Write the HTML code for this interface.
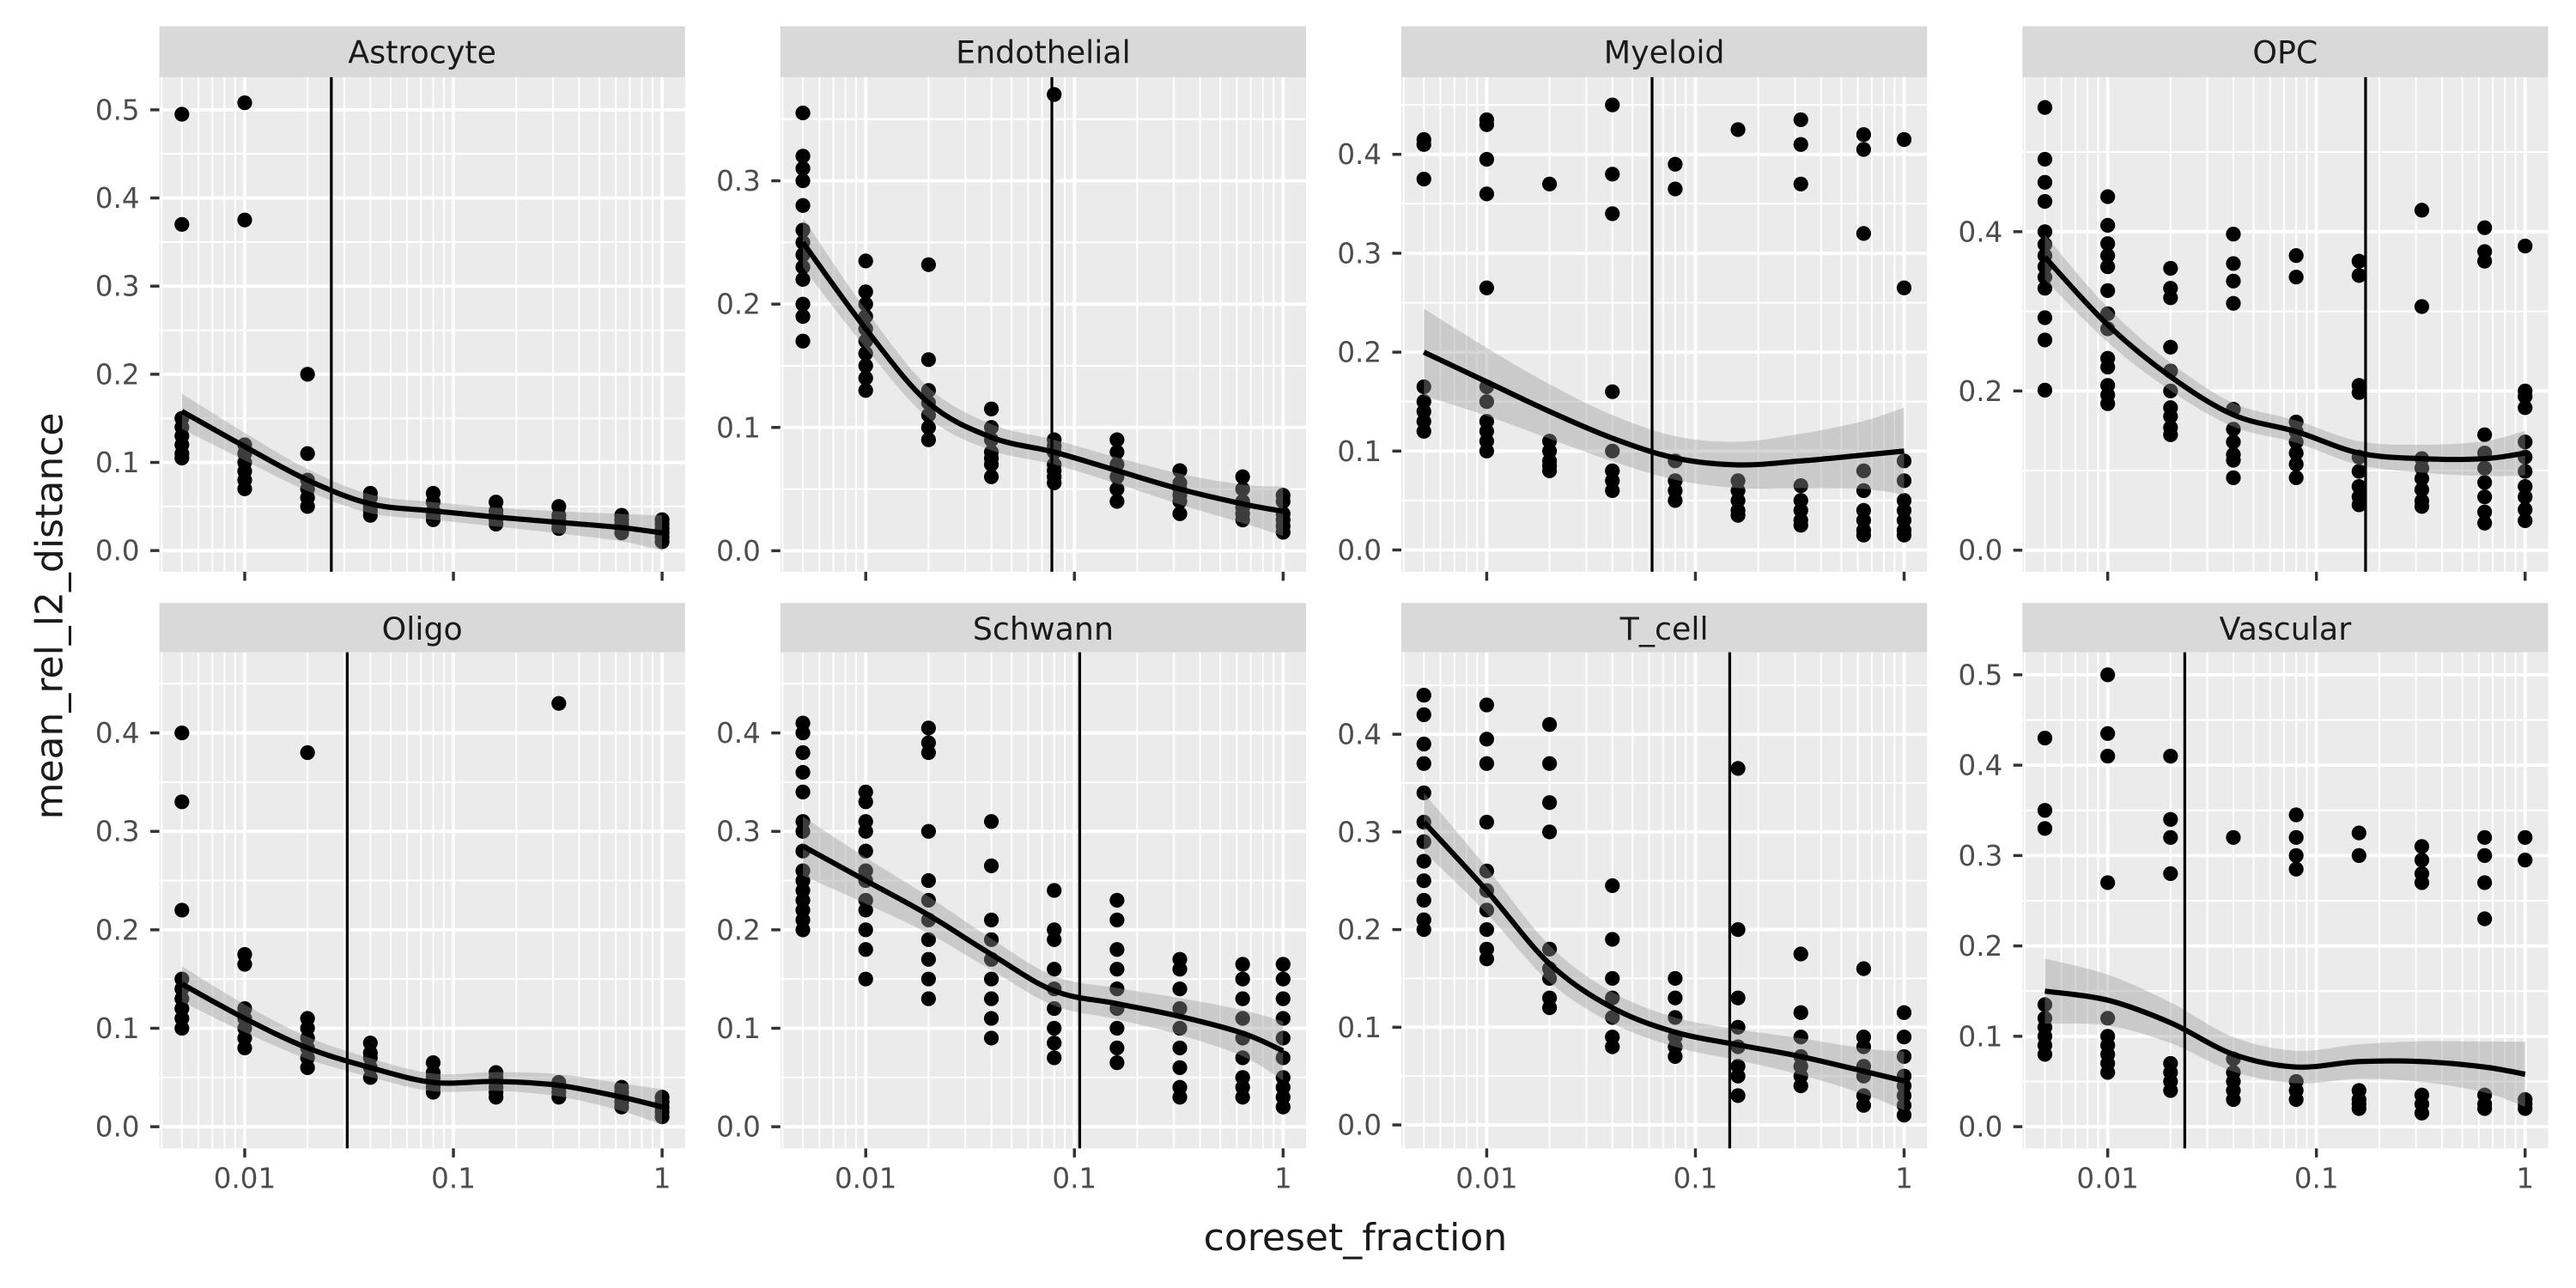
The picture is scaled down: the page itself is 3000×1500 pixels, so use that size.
<!DOCTYPE html>
<html><head><meta charset="utf-8"><style>
html,body{margin:0;padding:0;background:#fff}
svg{display:block}
text{font-family:"DejaVu Sans","Liberation Sans",sans-serif}
</style></head><body>
<svg id="chart" width="3000" height="1500" viewBox="0 0 1568 784" xmlns="http://www.w3.org/2000/svg">
<rect width="1568" height="784" fill="#fff"/>
<text x="825" y="761" font-size="23" fill="#1a1a1a" text-anchor="middle">coreset_fraction</text>
<text x="0" y="0" font-size="23" fill="#1a1a1a" text-anchor="middle" transform="translate(38,375) rotate(-90)">mean_rel_l2_distance</text>
</svg>
<script>
const xs = [0.005,0.01,0.02,0.04,0.08,0.16,0.32,0.64,1];
const panelNames = ["Astrocyte","Endothelial","Myeloid","OPC","Oligo","Schwann","T_cell","Vascular"];
const vlines = [0.026,0.078,0.062,0.172,0.031,0.106,0.146,0.0234];
const yMax = [0.537,0.384,0.478,0.594,0.482,0.482,0.484,0.525];
const yMin = [-0.024,-0.017,-0.022,-0.027,-0.022,-0.022,-0.024,-0.024];
const yTicks = [[0,0.1,0.2,0.3,0.4,0.5],[0,0.1,0.2,0.3],[0,0.1,0.2,0.3,0.4],[0,0.2,0.4],[0,0.1,0.2,0.3,0.4],[0,0.1,0.2,0.3,0.4],[0,0.1,0.2,0.3,0.4],[0,0.1,0.2,0.3,0.4,0.5]];
const smoothAstrocyte=[0.158,0.118,0.08,0.053,0.045,0.038,0.032,0.026,0.02];
const smoothEndothelial=[0.25,0.18,0.12,0.092,0.08,0.065,0.05,0.038,0.032];
const smoothMyeloid=[0.2,0.17,0.14,0.113,0.093,0.086,0.09,0.096,0.1];
const smoothOPC=[0.368,0.283,0.218,0.17,0.149,0.122,0.115,0.115,0.122];
const smoothOligo=[0.145,0.11,0.08,0.06,0.045,0.046,0.042,0.03,0.02];
const smoothSchwann=[0.285,0.25,0.215,0.175,0.138,0.125,0.112,0.095,0.077];
const smoothTcell=[0.31,0.24,0.165,0.12,0.095,0.082,0.07,0.055,0.045];
const smoothVascular=[0.15,0.14,0.115,0.08,0.066,0.072,0.072,0.066,0.058];
const smooths=[smoothAstrocyte,smoothEndothelial,smoothMyeloid,smoothOPC,smoothOligo,smoothSchwann,smoothTcell,smoothVascular];
const seHalf=[0.01,0.01,0.022,0.014,0.009,0.015,0.015,0.018];
const ptsAstrocyte=[[0.495,0.37,0.15,0.14,0.13,0.12,0.11,0.105],[0.508,0.375,0.12,0.11,0.1,0.09,0.08,0.07],[0.2,0.11,0.08,0.07,0.06,0.05],[0.065,0.06,0.05,0.045,0.04],[0.065,0.055,0.045,0.04,0.035],[0.055,0.045,0.04,0.035,0.03],[0.05,0.04,0.035,0.03,0.025],[0.04,0.035,0.03,0.025,0.02],[0.035,0.03,0.025,0.02,0.015,0.01]];
const ptsEndothelial=[[0.355,0.32,0.31,0.3,0.28,0.26,0.25,0.24,0.23,0.22,0.2,0.19,0.17],[0.235,0.21,0.2,0.19,0.18,0.17,0.16,0.15,0.14,0.13],[0.232,0.155,0.13,0.12,0.11,0.1,0.09],[0.115,0.1,0.09,0.08,0.075,0.07,0.06],[0.37,0.09,0.085,0.08,0.07,0.065,0.06,0.055],[0.09,0.08,0.07,0.06,0.05,0.04],[0.065,0.055,0.05,0.045,0.04,0.03],[0.06,0.05,0.04,0.035,0.03,0.025],[0.045,0.04,0.03,0.025,0.02,0.015]];
const ptsMyeloid=[[0.415,0.41,0.375,0.165,0.15,0.14,0.13,0.12],[0.435,0.43,0.395,0.36,0.265,0.165,0.15,0.13,0.12,0.11,0.1],[0.37,0.11,0.1,0.09,0.085,0.08],[0.45,0.38,0.34,0.16,0.1,0.08,0.07,0.06],[0.39,0.365,0.09,0.07,0.06,0.05],[0.425,0.07,0.06,0.05,0.04,0.035],[0.435,0.41,0.37,0.065,0.05,0.04,0.03,0.025],[0.42,0.405,0.32,0.08,0.06,0.04,0.03,0.02,0.015],[0.415,0.265,0.09,0.07,0.05,0.04,0.03,0.02,0.015]];
const ptsOPC=[[0.556,0.491,0.462,0.438,0.4,0.384,0.37,0.356,0.343,0.329,0.292,0.264,0.201],[0.444,0.408,0.385,0.37,0.356,0.326,0.297,0.278,0.241,0.23,0.207,0.195,0.184],[0.354,0.329,0.317,0.255,0.225,0.2,0.179,0.168,0.154,0.145],[0.397,0.36,0.338,0.31,0.177,0.152,0.136,0.12,0.113,0.091],[0.37,0.343,0.161,0.149,0.136,0.122,0.108,0.091],[0.363,0.345,0.207,0.198,0.117,0.099,0.08,0.067,0.057],[0.427,0.306,0.115,0.103,0.09,0.076,0.062,0.055],[0.405,0.375,0.363,0.145,0.122,0.103,0.085,0.067,0.048,0.034],[0.382,0.2,0.193,0.179,0.136,0.117,0.099,0.08,0.067,0.051,0.037]];
const ptsOligo=[[0.4,0.33,0.22,0.15,0.14,0.13,0.12,0.11,0.1],[0.175,0.165,0.12,0.11,0.1,0.09,0.08],[0.38,0.11,0.1,0.09,0.08,0.07,0.06],[0.085,0.075,0.07,0.06,0.05],[0.065,0.055,0.05,0.045,0.04,0.035],[0.055,0.05,0.045,0.04,0.035,0.03],[0.43,0.045,0.04,0.035,0.03],[0.04,0.035,0.03,0.025,0.02],[0.03,0.025,0.02,0.015,0.01]];
const ptsSchwann=[[0.41,0.4,0.38,0.36,0.34,0.31,0.3,0.28,0.26,0.25,0.24,0.23,0.22,0.21,0.2],[0.34,0.33,0.31,0.3,0.28,0.26,0.25,0.23,0.22,0.2,0.18,0.15],[0.405,0.39,0.38,0.3,0.25,0.23,0.21,0.19,0.17,0.15,0.13],[0.31,0.265,0.21,0.19,0.17,0.15,0.13,0.11,0.09],[0.24,0.2,0.19,0.16,0.14,0.12,0.1,0.085,0.07],[0.23,0.21,0.18,0.16,0.14,0.12,0.1,0.08,0.065],[0.17,0.16,0.14,0.12,0.1,0.08,0.06,0.04,0.03],[0.165,0.15,0.13,0.11,0.09,0.07,0.05,0.04,0.03],[0.165,0.15,0.13,0.11,0.09,0.07,0.05,0.04,0.03,0.02]];
const ptsTcell=[[0.44,0.42,0.39,0.37,0.34,0.31,0.29,0.27,0.25,0.23,0.21,0.2],[0.43,0.395,0.37,0.31,0.26,0.24,0.22,0.2,0.18,0.17],[0.41,0.37,0.33,0.3,0.18,0.16,0.15,0.13,0.12],[0.245,0.19,0.15,0.13,0.11,0.09,0.08],[0.15,0.13,0.11,0.09,0.08,0.07],[0.365,0.2,0.13,0.1,0.08,0.06,0.05,0.03],[0.175,0.115,0.09,0.07,0.06,0.05,0.04],[0.16,0.09,0.08,0.06,0.05,0.03,0.02],[0.115,0.09,0.07,0.05,0.04,0.03,0.02,0.01]];
const ptsVascular=[[0.43,0.35,0.33,0.135,0.12,0.11,0.1,0.09,0.08],[0.5,0.435,0.41,0.27,0.12,0.1,0.09,0.08,0.07,0.06],[0.41,0.34,0.32,0.28,0.07,0.06,0.05,0.04],[0.32,0.075,0.06,0.05,0.04,0.03],[0.345,0.32,0.3,0.285,0.05,0.04,0.03],[0.325,0.3,0.04,0.03,0.025,0.02],[0.31,0.295,0.28,0.27,0.035,0.025,0.015],[0.32,0.3,0.27,0.23,0.035,0.025,0.02],[0.32,0.295,0.03,0.025,0.02]];
const points=[ptsAstrocyte,ptsEndothelial,ptsMyeloid,ptsOPC,ptsOligo,ptsSchwann,ptsTcell,ptsVascular];
const xTickLabels=["0.01","0.1","1"];
const xTickVals=[0.01,0.1,1];

const NS="http://www.w3.org/2000/svg";
const svg=document.getElementById("chart");
function mk(tag,attrs,parent){const e=document.createElementNS(NS,tag);for(const k in attrs)e.setAttribute(k,attrs[k]);(parent||svg).appendChild(e);return e;}
const colX=[97,475,853,1231], PW=320;
const rowStrip=[16,367], rowTop=[47,397], rowBot=[348,699];
const LMIN=-2.409, LMAX=0.11;
function seg(p){let d="";for(let i=0;i<p.length-1;i++){const p0=p[Math.max(0,i-1)],p1=p[i],p2=p[i+1],p3=p[Math.min(p.length-1,i+2)];d+=" C"+(p1[0]+(p2[0]-p0[0])/6)+","+(p1[1]+(p2[1]-p0[1])/6)+" "+(p2[0]-(p3[0]-p1[0])/6)+","+(p2[1]-(p3[1]-p1[1])/6)+" "+p2[0]+","+p2[1];}return d;}
function smoothPath(p){return "M"+p[0][0]+","+p[0][1]+seg(p);}

panelNames.forEach((name,pi)=>{
  const r=Math.floor(pi/4), c=pi%4;
  const x0=colX[c], x1=x0+PW, y0=rowTop[r], y1=rowBot[r];
  const X=v=>x0+(Math.log10(v)-LMIN)/(LMAX-LMIN)*PW;
  const Y=v=>y1-(v-yMin[pi])/(yMax[pi]-yMin[pi])*(y1-y0);
  const g=mk("g",{});
  
  
  const strip=mk("rect",{x:x0,y:rowStrip[r],width:PW,height:rowTop[r]-rowStrip[r],fill:"#d9d9d9"},g);
  
  
  const st=mk("text",{x:x0+PW/2,y:rowStrip[r]+22.5,"font-size":"19","text-anchor":"middle",fill:"#1a1a1a"},g);
  st.textContent=name;
  
  
  const bg=mk("rect",{x:x0,y:y0,width:PW,height:y1-y0,fill:"#ebebeb"},g);
  
  
  for(let e=-3;e<=0;e++){for(let m=2;m<=9;m++){const v=m*Math.pow(10,e);const L=Math.log10(v);if(L<LMIN||L>LMAX)continue;mk("line",{x1:X(v),x2:X(v),y1:y0,y2:y1,stroke:"#fff","stroke-width":"1"},g);}}
  const t=yTicks[pi], step=t[1]-t[0];
  for(let v=t[0]-step/2; v<=yMax[pi]; v+=step){if(v<yMin[pi])continue;mk("line",{x1:x0,x2:x1,y1:Y(v),y2:Y(v),stroke:"#fff","stroke-width":"1"},g);}
  t.forEach(v=>{if(v>yMax[pi])return;mk("line",{x1:x0,x2:x1,y1:Y(v),y2:Y(v),stroke:"#fff","stroke-width":"2"},g);
    mk("line",{x1:x0-5.5,x2:x0,y1:Y(v),y2:Y(v),stroke:"#333","stroke-width":"1.8"},g);
    const tl=mk("text",{x:x0-12,y:Y(v)+6,"font-size":"17","text-anchor":"end",fill:"#4d4d4d"},g);
    tl.textContent=v.toFixed(1);
    
    });
  xTickVals.forEach((v,i)=>{mk("line",{x1:X(v),x2:X(v),y1:y0,y2:y1,stroke:"#fff","stroke-width":"2"},g);
    mk("line",{x1:X(v),x2:X(v),y1:y1,y2:y1+5.5,stroke:"#333","stroke-width":"1.8"},g);
    if(r===1){const tl=mk("text",{x:X(v),y:y1+24,"font-size":"17","text-anchor":"middle",fill:"#4d4d4d"},g);
      tl.textContent=xTickLabels[i];
      
      }});
  points[pi].forEach((arr,xi)=>arr.forEach(v=>{const p=mk("circle",{cx:X(xs[xi]),cy:Y(v),r:"4.5",fill:"#000"},g);
    
    }));
  const sm=smooths[pi], n=sm.length;
  const hw=i=>seHalf[pi]*(1+1.0*Math.pow(Math.abs(i-(n-1)/2)/((n-1)/2),2));
  const up=sm.map((v,i)=>[X(xs[i]),Y(v+hw(i))]);
  const dn=sm.map((v,i)=>[X(xs[i]),Y(v-hw(i))]).reverse();
  const rib=mk("path",{d:smoothPath(up)+" L"+dn[0][0]+","+dn[0][1]+seg(dn)+" Z",fill:"#999","fill-opacity":"0.4"},g);
  
  
  const ln=mk("path",{d:smoothPath(sm.map((v,i)=>[X(xs[i]),Y(v)])),fill:"none",stroke:"#000","stroke-width":"3.2"},g);
  
  
  const vl=mk("line",{x1:X(vlines[pi]),x2:X(vlines[pi]),y1:y0,y2:y1,stroke:"#000","stroke-width":"1.7"},g);
  
  
});
</script>
</body></html>
